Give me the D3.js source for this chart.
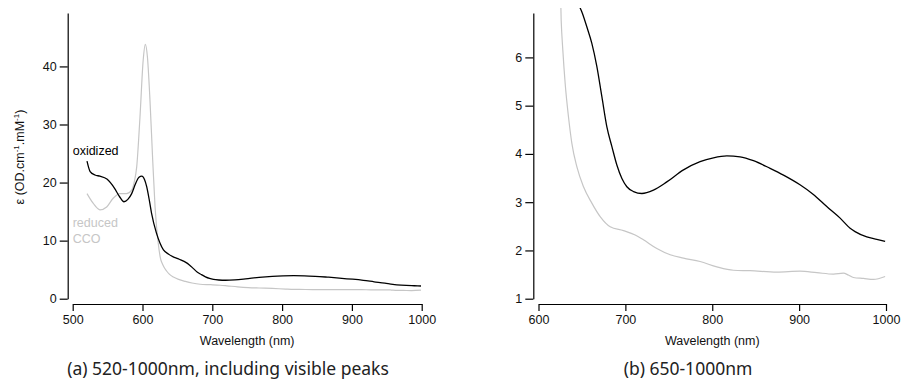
<!DOCTYPE html>
<html>
<head>
<meta charset="utf-8">
<script src="https://cdn.jsdelivr.net/npm/d3@7"></script>
<style>
  body { margin: 0; background: #fff; }
  .axis path, .axis line { stroke: #000; stroke-width: 1.2; }
</style>
</head>
<body>
<svg width="901" height="383"></svg>
<script>
// oxidized CCO spectrum (black)
var oxWavelength = [520.5, 525, 532, 539, 549, 560, 567, 573.5, 579, 584.5, 590, 595, 599, 603, 606, 610, 613, 620, 625, 630, 637, 644,
    650.6, 655.7, 661.4, 667.2, 673, 678.7, 684.5, 690.2, 696, 701.7, 709.4, 719, 732.3, 747.7, 766.9, 786, 801.4, 816.8, 832,
    847.4, 866.6, 882, 901, 916.4, 931.8, 947.2, 958.7, 964.4, 977.9, 989.4, 999];
var oxValue = [23.7, 21.9, 21.3, 21.1, 20.6, 19.0, 17.6, 16.7, 17.1, 18.1, 19.8, 20.9, 21.1, 20.5, 19.3, 16.8, 14.7, 11.3, 9.6, 8.4, 7.7, 7.2,
    6.91, 6.63, 6.29, 5.81, 5.18, 4.56, 4.15, 3.77, 3.49, 3.32, 3.22, 3.18, 3.25, 3.42, 3.67, 3.84, 3.92, 3.96, 3.94,
    3.86, 3.70, 3.56, 3.36, 3.16, 2.91, 2.67, 2.46, 2.39, 2.28, 2.23, 2.19];

// reduced CCO spectrum (grey)
var redWavelength = [520.5, 529.5, 539, 548.7, 558, 568, 577, 584.5, 588, 591.7, 596.4, 601, 604, 607, 610.7, 614.6, 618, 622.6,
    626.1, 628, 630.7, 634.5, 638.4, 644.2, 651.8, 661.4, 671, 682.5, 697.8, 711.3, 720.8, 736.2, 751.6, 766.9, 786, 805.3,
    824.4, 843.6, 874.3, 901, 920.4, 939.5, 951, 956.7, 962.5, 974, 985.5, 999];
var redValue = [18.1, 16.4, 15.3, 15.8, 17.3, 18.1, 18.1, 18.7, 20.0, 22.7, 31.3, 41.1, 43.8, 41.7, 34.2, 23.9, 15.8, 9.5,
    6.77, 6.15, 5.46, 4.77, 4.22, 3.73, 3.32, 2.98, 2.70, 2.49, 2.41, 2.32, 2.22, 2.04, 1.91, 1.84, 1.77, 1.66,
    1.59, 1.58, 1.55, 1.57, 1.54, 1.51, 1.53, 1.49, 1.44, 1.42, 1.40, 1.46];

var xTicksA = [500, 600, 700, 800, 900, 1000];
var yTicksA = [0, 10, 20, 30, 40];
var xTicksB = [600, 700, 800, 900, 1000];
var yTicksB = [1, 2, 3, 4, 5, 6];

var FONT = "'Liberation Sans', Arial, Helvetica, sans-serif";
var svg = d3.select("svg");

var oxidized = oxWavelength.map(function(w, i) { return { x: w, y: oxValue[i] }; });
var reduced = redWavelength.map(function(w, i) { return { x: w, y: redValue[i] }; });

function styleAxis(a) {
    a.attr("font-family", null).attr("font-size", null);
    a.selectAll("text")
        .style("font-family", FONT)
        .style("font-size", "12.5px")
        .attr("fill", "#111");
}

function panel(opts) {
    var g = svg.append("g");
    var x = d3.scaleLinear().domain(opts.xDomain).range(opts.xRange);
    var y = d3.scaleLinear().domain(opts.yDomain).range(opts.yRange);

    g.append("clipPath").attr("id", opts.id)
        .append("rect")
        .attr("x", opts.xRange[0]).attr("y", opts.clipTop)
        .attr("width", opts.xRange[1] - opts.xRange[0])
        .attr("height", opts.yRange[0] - opts.clipTop);

    var line = d3.line()
        .x(function(d) { return x(d.x); })
        .y(function(d) { return y(d.y); })
        .curve(d3.curveMonotoneX);

    var lines = g.append("g").attr("clip-path", "url(#" + opts.id + ")");
    lines.append("path").datum(reduced)
        .attr("d", line).attr("fill", "none")
        .attr("stroke", "#c6c6c6").attr("stroke-width", 1.2);
    lines.append("path").datum(oxidized)
        .attr("d", line).attr("fill", "none")
        .attr("stroke", "#000").attr("stroke-width", 1.3);

    g.append("g").attr("class", "axis")
        .attr("transform", "translate(" + opts.yAxisX + ",0)")
        .call(d3.axisLeft(y).tickValues(opts.yTicks).tickFormat(d3.format("d"))
            .tickSize(8).tickSizeOuter(0).tickPadding(3))
        .call(styleAxis);

    g.append("g").attr("class", "axis")
        .attr("transform", "translate(0," + opts.xAxisY + ")")
        .call(d3.axisBottom(x).tickValues(opts.xTicks).tickFormat(d3.format("d"))
            .tickSize(7).tickSizeOuter(0).tickPadding(4))
        .call(styleAxis);

    g.append("text")
        .attr("x", (opts.xRange[0] + opts.xRange[1]) / 2)
        .attr("y", 344.5)
        .attr("text-anchor", "middle")
        .style("font-family", FONT)
        .style("font-size", "12.5px")
        .attr("fill", "#111")
        .text("Wavelength (nm)");

    g.append("text")
        .attr("x", opts.captionX)
        .attr("y", 375)
        .attr("text-anchor", "middle")
        .style("font-family", "'Noto Sans', sans-serif")
        .style("font-size", "17.5px")
        .attr("fill", "#222")
        .text(opts.caption);

    return { g: g, x: x, y: y };
}

var a = panel({
    id: "clipA",
    xDomain: [500, 1000], xRange: [72.7, 421.7],
    yDomain: [0, 49.2], yRange: [298.7, 13],
    clipTop: 8, yAxisX: 67.7, xAxisY: 304,
    xTicks: xTicksA, yTicks: yTicksA,
    caption: "(a) 520-1000nm, including visible peaks", captionX: 228
});

var b = panel({
    id: "clipB",
    xDomain: [600, 1000], xRange: [538.5, 886],
    yDomain: [1, 6.92], yRange: [298.7, 13],
    clipTop: 8, yAxisX: 533.3, xAxisY: 304,
    xTicks: xTicksB, yTicks: yTicksB,
    caption: "(b) 650-1000nm", captionX: 688
});

// y label for panel a
svg.append("text")
    .attr("transform", "translate(24,157) rotate(-90)")
    .attr("text-anchor", "middle")
    .style("font-family", FONT)
    .style("font-size", "12.5px")
    .attr("fill", "#111")
    .text("ε (OD.cm")
    .call(function(t) {
        t.append("tspan").attr("dy", -5).style("font-size", "8px").text("-1");
        t.append("tspan").attr("dy", 5).text(".mM");
        t.append("tspan").attr("dy", -5).style("font-size", "8px").text("-1");
        t.append("tspan").attr("dy", 5).text(")");
    });

// series labels
function label(txt, yPos, col) {
    svg.append("text").attr("x", 72.7).attr("y", yPos)
        .style("font-family", FONT).style("font-size", "12.5px")
        .attr("fill", col).text(txt);
}
label("oxidized", 154.5, "#000");
label("reduced", 227, "#c6c6c6");
label("CCO", 243, "#c6c6c6");
</script>
</body>
</html>
